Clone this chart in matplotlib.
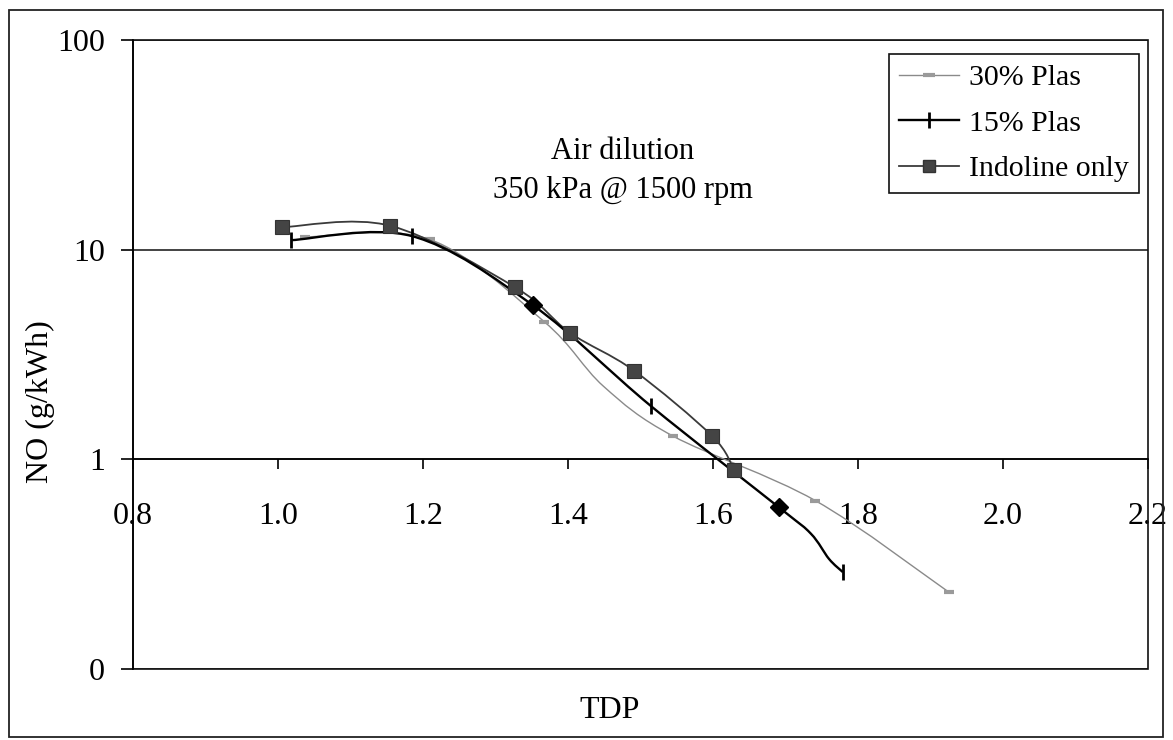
import numpy as np
import matplotlib
matplotlib.use("Agg")
import matplotlib.pyplot as plt
from matplotlib.path import Path
from matplotlib.patches import PathPatch, Rectangle
from matplotlib.lines import Line2D
from matplotlib.ticker import FixedLocator, FixedFormatter, NullLocator

plt.rcParams['font.family'] = ['Liberation Serif', 'DejaVu Serif']

# ---- data ----
tdp_30 = [1.037, 1.209, 1.367, 1.449, 1.545, 1.741, 1.925]
no_30 = [11.5, 11.2, 4.54, 2.23, 1.29, 0.636, 0.233]
markers_30 = ['_', '_', '_', '', '_', '_', '_']

tdp_15 = [1.018, 1.185, 1.352, 1.514, 1.691, 1.735, 1.760, 1.779]
no_15 = [11.1, 11.6, 5.42, 1.80, 0.59, 0.442, 0.335, 0.290]
markers_15 = ['|', '|', 'D', '|', 'D', '', '', '|']

tdp_ind = [1.006, 1.155, 1.327, 1.403, 1.491, 1.599, 1.629]
no_ind = [12.8, 13.0, 6.62, 4.01, 2.65, 1.29, 0.89]

x_ticks = [0.8, 1.0, 1.2, 1.4, 1.6, 1.8, 2.0, 2.2]
x_labels = ['0.8', '1.0', '1.2', '1.4', '1.6', '1.8', '2.0', '2.2']
y_ticks = [0.1, 1, 10, 100]
y_labels = ['0', '1', '10', '100']

W, H = 1173, 740
fig = plt.figure(figsize=(W / 100, H / 100), dpi=100)
L, R, T, B = 133, 1148, 40, 669
ax = fig.add_axes([L / W, 1 - B / H, (R - L) / W, (B - T) / H])
ax.set_yscale('log')
ax.set_xlim(0.8, 2.2)
ax.set_ylim(0.1, 100)


def smooth_path(xs, ys):
    """Excel-like smoothed line (Catmull-Rom bezier in x / log10(y) space)."""
    pts = np.column_stack([np.asarray(xs, float), np.log10(np.asarray(ys, float))])
    n = len(pts)
    verts = [pts[0]]
    codes = [Path.MOVETO]
    for i in range(n - 1):
        p0 = pts[i - 1] if i > 0 else pts[i]
        p1 = pts[i]
        p2 = pts[i + 1]
        p3 = pts[i + 2] if i + 2 < n else pts[i + 1]
        c1 = p1 + (p2 - p0) / 6.0
        c2 = p2 - (p3 - p1) / 6.0
        verts += [c1, c2, p2]
        codes += [Path.CURVE4] * 3
    verts = np.array(verts)
    verts[:, 1] = 10 ** verts[:, 1]
    return Path(verts, codes)


c30 = '#8a8a8a'
cind = '#3a3a3a'

# 30% Plas
ax.add_patch(PathPatch(smooth_path(tdp_30, no_30), fill=False, ec=c30, lw=1.0,
                       transform=ax.transData, zorder=3))
for xv, yv, m in zip(tdp_30, no_30, markers_30):
    if m:
        ax.plot([xv], [yv], ls='none', marker=m, ms=7, mew=3, color='#9a9a9a', zorder=3.1)

# Indoline only
ax.add_patch(PathPatch(smooth_path(tdp_ind, no_ind), fill=False, ec=cind, lw=1.3,
                       transform=ax.transData, zorder=4))

# 15% Plas
ax.add_patch(PathPatch(smooth_path(tdp_15, no_15), fill=False, ec='black', lw=1.7,
                       transform=ax.transData, zorder=5))
for xv, yv, m in zip(tdp_15, no_15, markers_15):
    if m == '|':
        ax.plot([xv], [yv], ls='none', marker='|', ms=11, mew=2, color='black', zorder=5.2)
    elif m == 'D':
        ax.plot([xv], [yv], ls='none', marker='D', ms=9, color='black', zorder=5.2)

ax.plot(tdp_ind, no_ind, ls='none', marker='s', ms=9.5, mfc='#444444', mec='#333333',
        mew=0.8, zorder=6)

# ---- axes styling (Excel look) ----
for s in ['top', 'right']:
    ax.spines[s].set_visible(False)
ax.spines['left'].set_linewidth(1.2)
ax.spines['bottom'].set_position(('data', 1))
ax.spines['bottom'].set_linewidth(1.2)
ax.add_patch(Rectangle((0, 0), 1, 1, transform=ax.transAxes, fill=False,
                       ec='#111111', lw=1.2, clip_on=False, zorder=2))

ax.xaxis.set_major_locator(FixedLocator(x_ticks))
ax.xaxis.set_major_formatter(FixedFormatter(x_labels))
ax.yaxis.set_major_locator(FixedLocator(y_ticks))
ax.yaxis.set_major_formatter(FixedFormatter(y_labels))
ax.yaxis.set_minor_locator(NullLocator())
ax.xaxis.set_minor_locator(NullLocator())
ax.tick_params(axis='x', direction='out', length=7, width=1.2, pad=24, labelsize=23)
ax.tick_params(axis='y', direction='out', length=9, width=1.2, pad=11, labelsize=23)
ax.yaxis.grid(True, which='major', color='#111111', lw=1.1)
ax.set_axisbelow(True)

# labels
fig.text(40 / W, 1 - 402 / H, 'NO (g/kWh)', rotation=90, ha='center', va='center', fontsize=23)
fig.text(610 / W, 1 - 710 / H, 'TDP', ha='center', va='center', fontsize=23)

# annotation
fig.text(623 / W, 1 - 159 / H, 'Air dilution', ha='center', va='baseline', fontsize=22)
fig.text(623 / W, 1 - 198 / H, '350 kPa @ 1500 rpm', ha='center', va='baseline', fontsize=22)

# legend
handles = [
    Line2D([], [], color=c30, lw=1.0, marker='_', ms=8, mew=3, mec='#9a9a9a'),
    Line2D([], [], color='black', lw=1.7, marker='|', ms=11, mew=2),
    Line2D([], [], color=cind, lw=1.3, marker='s', ms=9, mfc='#444444', mec='#333333'),
]
leg = ax.legend(handles, ['30% Plas', '15% Plas', 'Indoline only'],
                loc='upper right', bbox_to_anchor=(1139 / W, 1 - 54 / H),
                bbox_transform=fig.transFigure, borderaxespad=0, frameon=True,
                fancybox=False, edgecolor='#111111', framealpha=1,
                prop={'size': 21.5}, handlelength=2.0, handletextpad=0.33,
                labelspacing=0.62, borderpad=0.35)
leg.get_frame().set_linewidth(1.2)
leg.set_zorder(10)

# outer chart border
fig.patches.append(Rectangle((9 / W, 1 - 737 / H), (1163 - 9) / W, (737 - 10) / H,
                             transform=fig.transFigure, fill=False, ec='#222222', lw=1.3))

fig.savefig('out.png', dpi=100)
